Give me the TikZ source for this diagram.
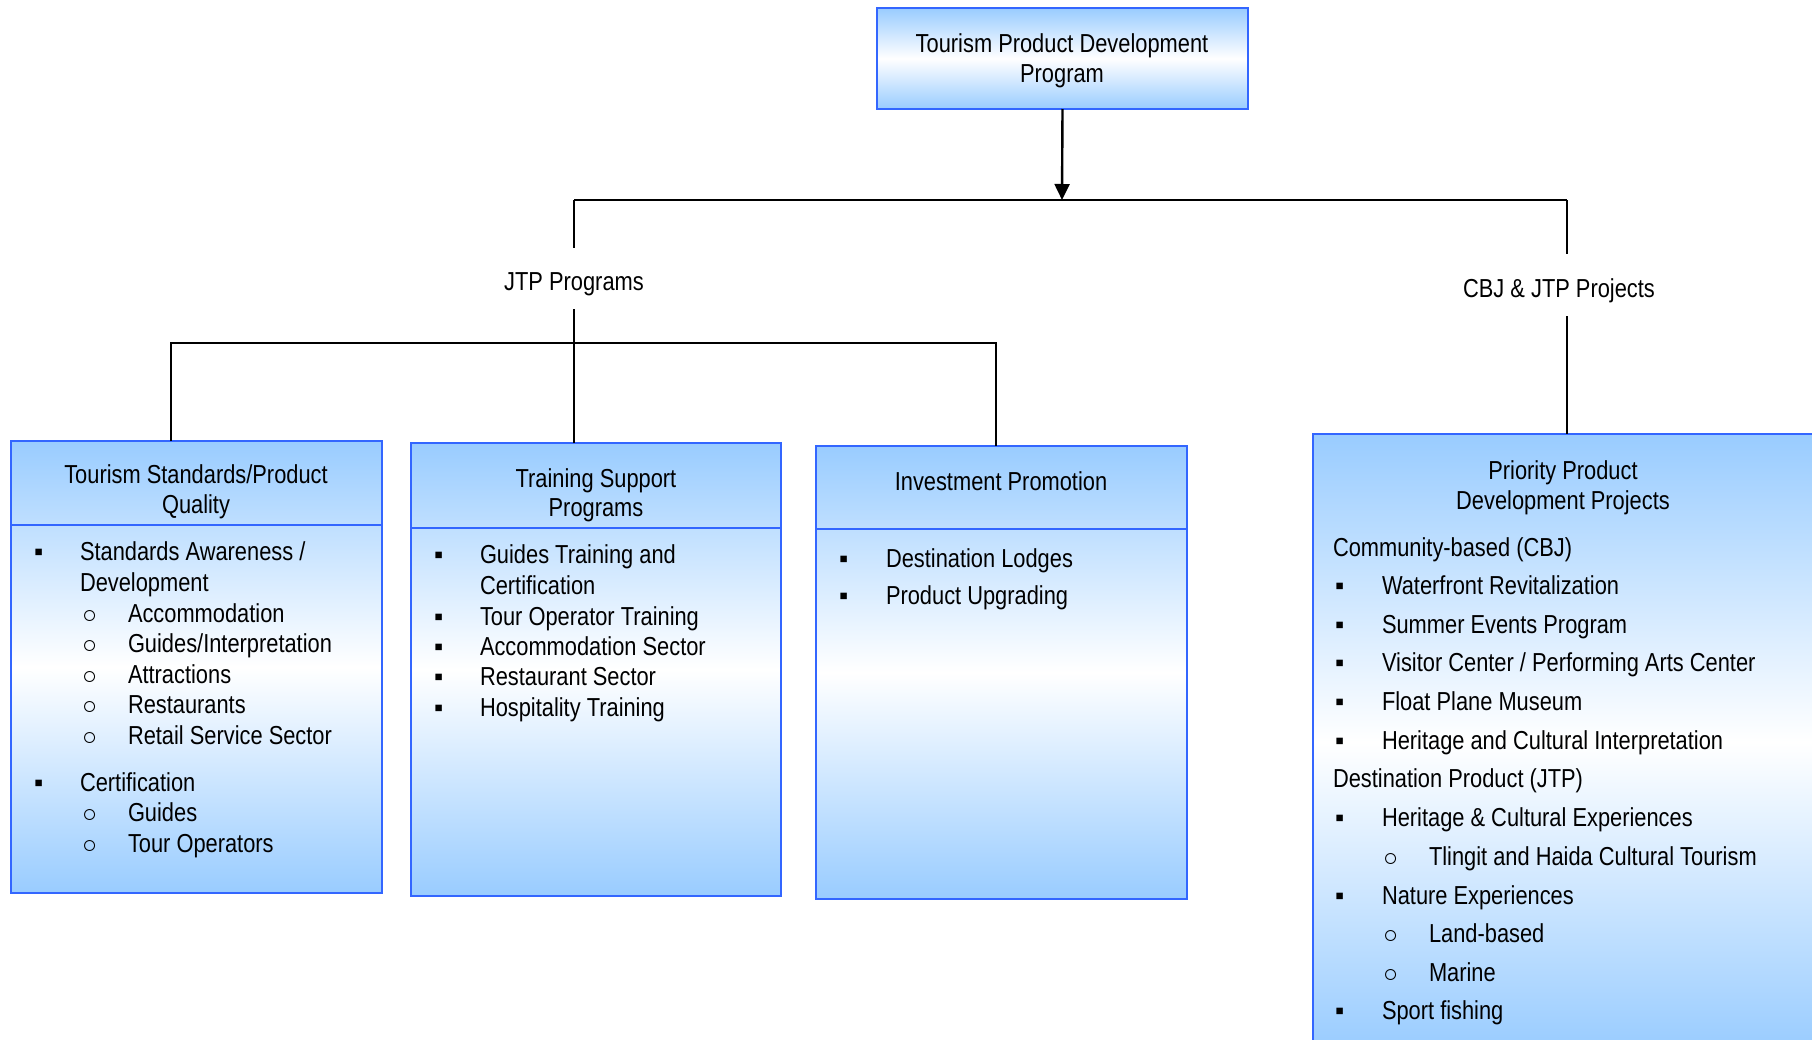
\documentclass[tikz,border=0pt]{standalone}
\usepackage{fontspec}
\setmainfont{Liberation Sans}[FakeStretch=0.84]
\newfontfamily\bulfont{Liberation Sans}
\usetikzlibrary{arrows.meta}
\definecolor{bfill}{HTML}{99CCFF}
\definecolor{bedge}{HTML}{3366FF}
\tikzset{
  box/.style={draw=bedge, line width=2.2pt, top color=bfill, bottom color=bfill, middle color=white, inner sep=0pt, outer sep=0pt, anchor=north west},
  divline/.style={draw=bedge, line width=2.2pt},
  conn/.style={draw=black, line width=2.4pt},
  txt/.style={inner sep=0pt, outer sep=0pt, anchor=base west, font=\fontsize{26pt}{30pt}\selectfont},
  ctxt/.style={txt, anchor=base},
  lbl/.style={inner sep=0pt, outer sep=0pt, anchor=base, font=\fontsize{26pt}{30pt}\selectfont},
  bul/.style={inner sep=0pt, outer sep=0pt, anchor=base west, font=\bulfont\fontsize{26pt}{30pt}\selectfont},
  cir/.style={inner sep=0pt, outer sep=0pt, anchor=south west, yshift=-1pt, font=\bulfont\fontsize{25pt}{30pt}\selectfont},
}
\newcommand\sqi[5]{\node[bul] (#1b) at (#2,#4) {\char"25AA}; \node[txt] (#1) at (#3,#4) {#5};}
\newcommand\cii[5]{\node[cir] (#1b) at (#2,#4) {\char"25CB}; \node[txt] (#1) at (#3,#4) {#5};}
\begin{document}
\begin{tikzpicture}[x=1pt,y=-1pt]
\useasboundingbox (0,0) rectangle (1812,1039);
\clip (0,0) rectangle (1812,1039);

% top box
\node[box, minimum width=371pt, minimum height=101pt] (top) at (877,8) {};
\node[ctxt] (topa) at (1062,52) {Tourism Product Development};
\node[ctxt] (topb) at (1062,82) {Program};

% labels
\node[lbl] (jtp) at (574,290) {JTP Programs};
\node[lbl] (cbj) at (1559,297) {CBJ \& JTP Projects};

% boxes
\node[box, minimum width=371pt, minimum height=452pt] (b1) at (11,441) {};
\node[box, minimum width=370pt, minimum height=453pt] (b2) at (411,443) {};
\node[box, minimum width=371pt, minimum height=453pt] (b3) at (816,446) {};
\node[box, minimum width=503pt, minimum height=616pt] (b4) at (1313,434) {};

% dividers
\draw[divline] (b1.west |- 0,525) -- (b1.east |- 0,525);
\draw[divline] (b2.west |- 0,528) -- (b2.east |- 0,528);
\draw[divline] (b3.west |- 0,529) -- (b3.east |- 0,529);

% connectors
\coordinate (jA) at (1062,200);
\coordinate (jL) at (574,200);
\coordinate (jR) at (1567,200);
\coordinate (jLa) at (574,248);
\coordinate (jLb) at (574,309);
\coordinate (jRa) at (1567,254);
\coordinate (jRb) at (1567,316);
\coordinate (h1) at (171,343);
\coordinate (h3) at (996,343);
\draw[conn, -{Triangle[width=15pt,length=16pt]}] (top.south) -- (jA);
\draw[conn] (jL) -- (jR);
\draw[conn] (jL) -- (jLa);
\draw[conn] (jR) -- (jRa);
\draw[conn] (jLb) -- (jLb |- b2.north);
\draw[conn] (jRb) -- (jRb |- b4.north);
\draw[conn] (h1 |- b1.north) -- (h1) -- (h3) -- (h3 |- b3.north);

% box 1
\node[ctxt] (b1ha) at (196,483) {Tourism Standards/Product};
\node[ctxt] (b1hb) at (196,513) {Quality};
\sqi{b1i1}{34}{80}{560}{Standards Awareness /}
\node[txt] (b1i1c) at (80,591) {Development};
\cii{b1s1}{82}{128}{622}{Accommodation}
\cii{b1s2}{82}{128}{652}{Guides/Interpretation}
\cii{b1s3}{82}{128}{683}{Attractions}
\cii{b1s4}{82}{128}{713}{Restaurants}
\cii{b1s5}{82}{128}{744}{Retail Service Sector}
\sqi{b1i2}{34}{80}{791}{Certification}
\cii{b1s6}{82}{128}{821}{Guides}
\cii{b1s7}{82}{128}{852}{Tour Operators}

% box 2
\node[ctxt] (b2ha) at (596,487) {Training Support};
\node[ctxt] (b2hb) at (596,516) {Programs};
\sqi{b2i1}{434}{480}{563}{Guides Training and}
\node[txt] (b2i1c) at (480,594) {Certification};
\sqi{b2i2}{434}{480}{625}{Tour Operator Training}
\sqi{b2i3}{434}{480}{655}{Accommodation Sector}
\sqi{b2i4}{434}{480}{685}{Restaurant Sector}
\sqi{b2i5}{434}{480}{716}{Hospitality Training}

% box 3
\node[ctxt] (b3h) at (1001,490) {Investment Promotion};
\sqi{b3i1}{839}{886}{567}{Destination Lodges}
\sqi{b3i2}{839}{886}{604}{Product Upgrading}

% box 4
\node[ctxt] (b4ha) at (1563,479) {Priority Product};
\node[ctxt] (b4hb) at (1563,509) {Development Projects};
\node[txt] (b4g1) at (1333,556) {Community-based (CBJ)};
\sqi{b4i1}{1335}{1382}{594}{Waterfront Revitalization}
\sqi{b4i2}{1335}{1382}{633}{Summer Events Program}
\sqi{b4i3}{1335}{1382}{671}{Visitor Center / Performing Arts Center}
\sqi{b4i4}{1335}{1382}{710}{Float Plane Museum}
\sqi{b4i5}{1335}{1382}{749}{Heritage and Cultural Interpretation}
\node[txt] (b4g2) at (1333,787) {Destination Product (JTP)};
\sqi{b4i6}{1335}{1382}{826}{Heritage \& Cultural Experiences}
\cii{b4s1}{1383}{1429}{865}{Tlingit and Haida Cultural Tourism}
\sqi{b4i7}{1335}{1382}{904}{Nature Experiences}
\cii{b4s2}{1383}{1429}{942}{Land-based}
\cii{b4s3}{1383}{1429}{981}{Marine}
\sqi{b4i8}{1335}{1382}{1019}{Sport fishing}
\end{tikzpicture}
\end{document}
